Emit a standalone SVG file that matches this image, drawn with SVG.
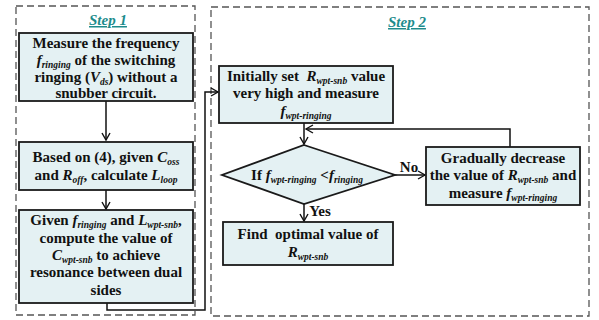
<svg xmlns="http://www.w3.org/2000/svg" width="599" height="320" viewBox="0 0 599 320">
<style>
.frame{fill:none;stroke:#555;stroke-width:1.3;stroke-dasharray:7,4}
.box{fill:#E4F1F3;stroke:#1a1a1a;stroke-width:1.8}
.t{font-family:"Liberation Serif","Times New Roman",serif;font-weight:bold;font-size:15px;fill:#111;text-anchor:middle}
.s{font-style:italic;font-size:9.5px}
.i{font-style:italic}
.step{font-family:"Liberation Serif","Times New Roman",serif;font-weight:bold;font-style:italic;font-size:15px;fill:#1E8C8C;text-anchor:middle;text-decoration:underline}
.c{fill:none;stroke:#111;stroke-width:1.5}
</style>
<defs>
<marker id="a" markerWidth="10" markerHeight="10" refX="8" refY="5" orient="auto" markerUnits="userSpaceOnUse">
<path d="M1,1 L8,5 L1,9" fill="none" stroke="#111" stroke-width="1.4"/>
</marker>
</defs>
<rect class="frame" x="16" y="6" width="179" height="309"/>
<rect class="frame" x="211" y="7" width="378" height="309"/>
<text class="step" x="108" y="25">Step 1</text>
<text class="step" x="407" y="27">Step 2</text>

<g id="connectors">
<path class="c" d="M106,101 V140" marker-end="url(#a)"/>
<path class="c" d="M106,190 V209" marker-end="url(#a)"/>
<path class="c" d="M107,303 V310 H205 V92 H218" marker-end="url(#a)"/>
<path class="c" d="M304,123 V144" marker-end="url(#a)"/>
<path class="c" d="M395,175 H425" marker-end="url(#a)"/>
<path class="c" d="M510,147 V129 H306" marker-end="url(#a)"/>
<path class="c" d="M304,203 V221" marker-end="url(#a)"/>
<text class="t" x="409" y="172">No</text>
<text class="t" x="320" y="216">Yes</text>
</g>

<g id="n1">
<rect class="box" x="19" y="33" width="174" height="68"/>
<text class="t" x="106" y="48">Measure the frequency</text>
<text class="t" x="106" y="65"><tspan class="i">f</tspan><tspan class="s" dy="2.5">ringing</tspan><tspan dy="-2.5"> of the switching</tspan></text>
<text class="t" x="106" y="82">ringing (<tspan class="i">V</tspan><tspan class="s" dy="2.5">ds</tspan><tspan dy="-2.5">) without a</tspan></text>
<text class="t" x="106" y="98">snubber circuit.</text>
</g>

<g id="n2">
<rect class="box" x="19" y="142" width="174" height="48"/>
<text class="t" x="106" y="162">Based on (4), given <tspan class="i">C</tspan><tspan class="s" dy="2.5">oss</tspan></text>
<text class="t" x="106" y="180">and <tspan class="i">R</tspan><tspan class="s" dy="2.5">off</tspan><tspan dy="-2.5">, calculate </tspan><tspan class="i">L</tspan><tspan class="s" dy="2.5">loop</tspan></text>
</g>

<g id="n3">
<rect class="box" x="19" y="210" width="174" height="93"/>
<text class="t" x="106" y="225">Given <tspan class="i">f</tspan><tspan class="s" dy="2.5">ringing</tspan><tspan dy="-2.5"> and </tspan><tspan class="i">L</tspan><tspan class="s" dy="2.5">wpt-snb</tspan><tspan dy="-2.5">,</tspan></text>
<text class="t" x="106" y="243">compute the value of</text>
<text class="t" x="106" y="260"><tspan class="i">C</tspan><tspan class="s" dy="2.5">wpt-snb</tspan><tspan dy="-2.5"> to achieve</tspan></text>
<text class="t" x="106" y="277">resonance between dual</text>
<text class="t" x="106" y="295">sides</text>
</g>

<g id="n4">
<rect class="box" x="219" y="66" width="174" height="57"/>
<text class="t" x="306" y="81">Initially set&#160; <tspan class="i">R</tspan><tspan class="s" dy="2.5">wpt-snb</tspan><tspan dy="-2.5"> value</tspan></text>
<text class="t" x="306" y="98">very high and measure</text>
<text class="t" x="306" y="116"><tspan class="i">f</tspan><tspan class="s" dy="2.5">wpt-ringing</tspan></text>
</g>

<g id="n5">
<polygon class="box" points="304,145 395,175 304,204 222,175"/>
<text class="t" x="307" y="180">If <tspan class="i">f</tspan><tspan class="s" dy="2.5">wpt-ringing</tspan><tspan dy="-2.5"> &lt;</tspan><tspan class="i">f</tspan><tspan class="s" dy="2.5">ringing</tspan></text>
</g>

<g id="n6">
<rect class="box" x="426" y="147" width="154" height="58"/>
<text class="t" x="503" y="163">Gradually decrease</text>
<text class="t" x="503" y="180">the value of <tspan class="i">R</tspan><tspan class="s" dy="2.5">wpt-snb</tspan><tspan dy="-2.5"> and</tspan></text>
<text class="t" x="503" y="198">measure <tspan class="i">f</tspan><tspan class="s" dy="2.5">wpt-ringing</tspan></text>
</g>

<g id="n7">
<rect class="box" x="223" y="222" width="170" height="43"/>
<text class="t" x="308" y="239">Find&#160; optimal value of</text>
<text class="t" x="308" y="257"><tspan class="i">R</tspan><tspan class="s" dy="2.5">wpt-snb</tspan></text>
</g>
</svg>
